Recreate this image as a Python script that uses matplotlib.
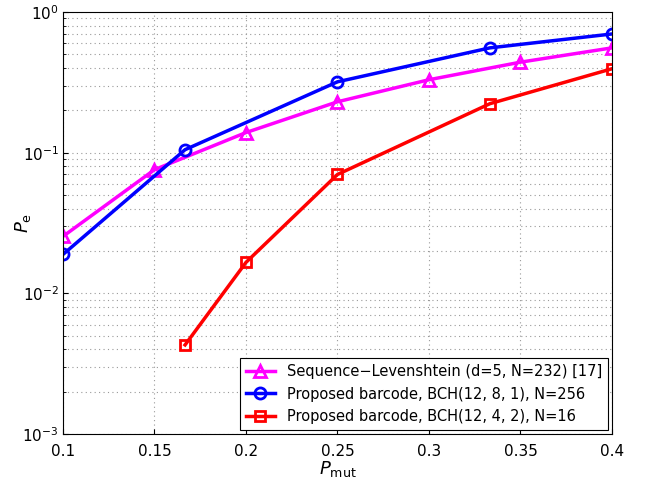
import matplotlib
matplotlib.use("Agg")
import matplotlib.pyplot as plt

x_lev = [0.1, 0.15, 0.2, 0.25, 0.3, 0.35, 0.4]
y_lev = [0.0254, 0.0757, 0.139, 0.230, 0.33, 0.44, 0.556]
x_b1 = [0.1, 0.1667, 0.25, 0.3333, 0.4]
y_b1 = [0.0189, 0.105, 0.319, 0.556, 0.698]
x_b2 = [0.1667, 0.2, 0.25, 0.3333, 0.4]
y_b2 = [0.0043, 0.0166, 0.070, 0.223, 0.395]

fig = plt.figure(figsize=(6.45, 4.82), dpi=100)
ax = fig.add_axes([63/645, 1-434/482, (612-63)/645, (434-12)/482])
ax.semilogy(x_lev, y_lev, '-^', color='#ff00ff', lw=2.5, ms=9, mfc='none', mew=2,
            label='Sequence\u2212Levenshtein (d=5, N=232) [17]')
ax.semilogy(x_b1, y_b1, '-o', color='#0000ff', lw=2.5, ms=8, mfc='none', mew=2,
            label='Proposed barcode, BCH(12, 8, 1), N=256')
ax.semilogy(x_b2, y_b2, '-s', color='#ff0000', lw=2.5, ms=7, mfc='none', mew=2,
            label='Proposed barcode, BCH(12, 4, 2), N=16')
ax.set_xlim(0.1, 0.4)
ax.set_ylim(1e-3, 1)
ax.set_xticks([0.1, 0.15, 0.2, 0.25, 0.3, 0.35, 0.4])
ax.set_xticklabels(['0.1', '0.15', '0.2', '0.25', '0.3', '0.35', '0.4'])
ax.grid(True, which='both', linestyle=(0, (1, 3)), color='#999999', lw=0.8)
ax.tick_params(labelsize=11, direction='in', which='both')
ax.tick_params(axis='x', pad=7)
ax.tick_params(axis='y', pad=3)
ax.set_xlabel('$P_{\\mathrm{mut}}$', fontsize=13, labelpad=0)
ax.set_ylabel('$P_{\\mathrm{e}}$', fontsize=13)
ax.yaxis.set_label_coords(-0.055, 0.5)
leg = ax.legend(loc='lower right', fontsize=10.5, fancybox=False, edgecolor='black',
                framealpha=1, borderaxespad=0.3)
leg.get_frame().set_linewidth(0.8)
fig.savefig('out.png', dpi=100)
